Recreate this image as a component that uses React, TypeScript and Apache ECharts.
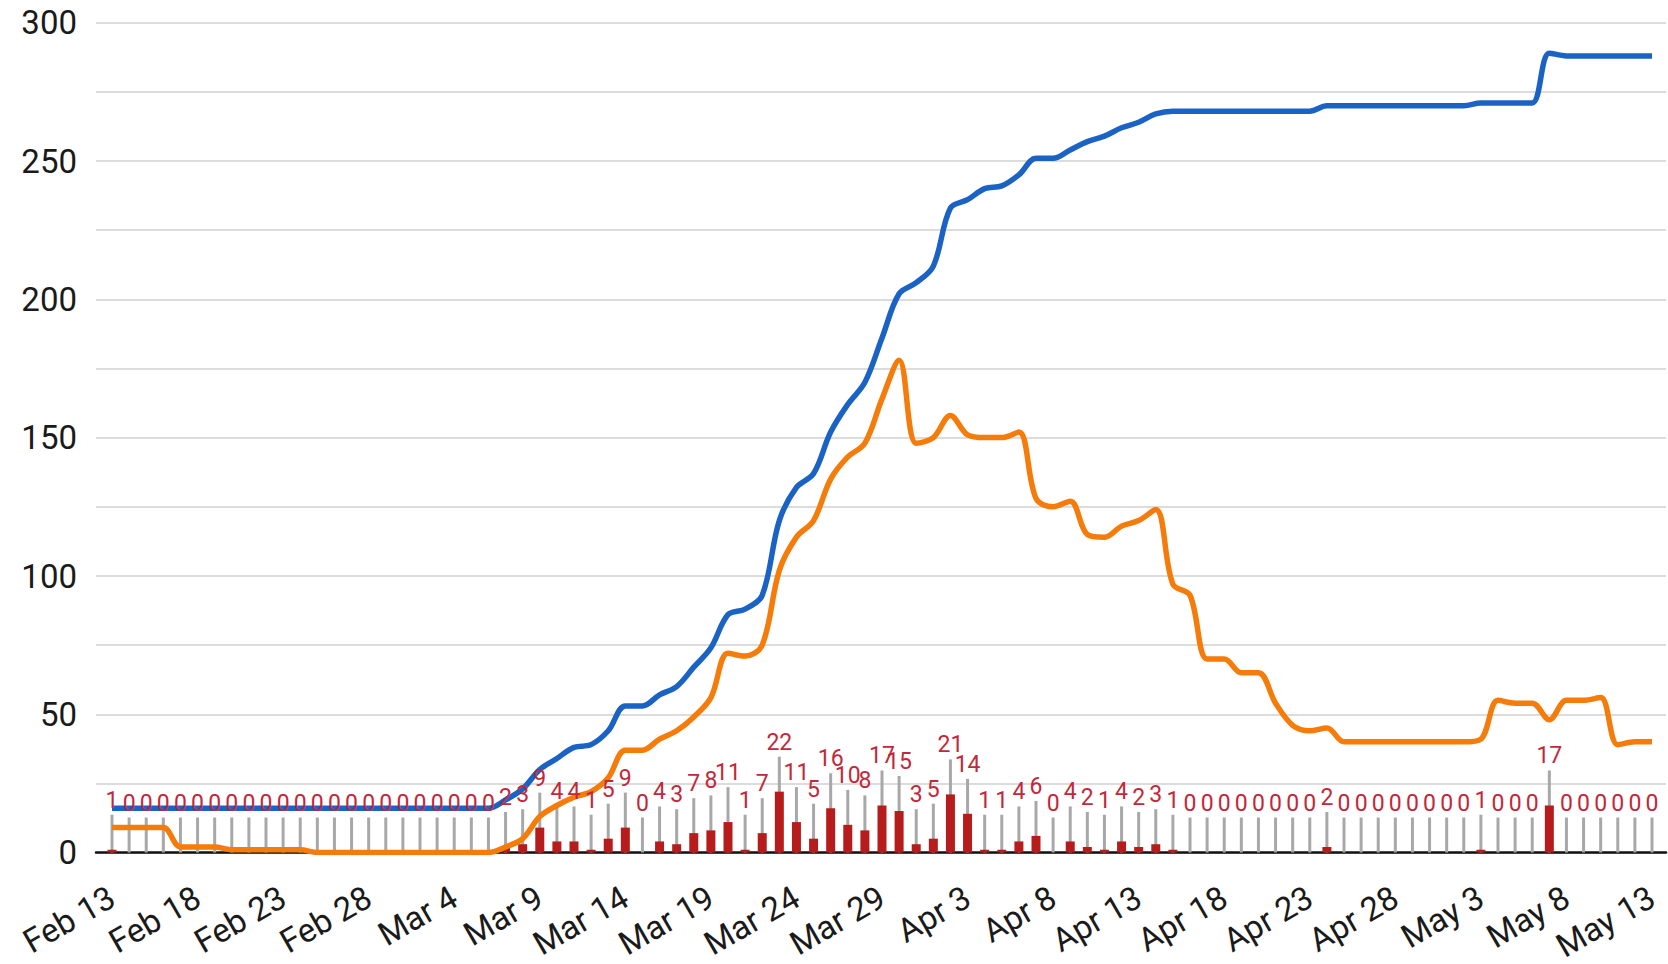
import React, { useEffect, useRef } from "react";
import * as echarts from "echarts";

const dates = [
  "Feb 13", "Feb 14", "Feb 15", "Feb 16", "Feb 17", "Feb 18", "Feb 19", "Feb 20", "Feb 21", "Feb 22",
  "Feb 23", "Feb 24", "Feb 25", "Feb 26", "Feb 27", "Feb 28", "Feb 29",
  "Mar 1", "Mar 2", "Mar 3", "Mar 4", "Mar 5", "Mar 6", "Mar 7", "Mar 8", "Mar 9", "Mar 10",
  "Mar 11", "Mar 12", "Mar 13", "Mar 14", "Mar 15", "Mar 16", "Mar 17", "Mar 18", "Mar 19", "Mar 20",
  "Mar 21", "Mar 22", "Mar 23", "Mar 24", "Mar 25", "Mar 26", "Mar 27", "Mar 28", "Mar 29", "Mar 30", "Mar 31",
  "Apr 1", "Apr 2", "Apr 3", "Apr 4", "Apr 5", "Apr 6", "Apr 7", "Apr 8", "Apr 9", "Apr 10",
  "Apr 11", "Apr 12", "Apr 13", "Apr 14", "Apr 15", "Apr 16", "Apr 17", "Apr 18", "Apr 19", "Apr 20",
  "Apr 21", "Apr 22", "Apr 23", "Apr 24", "Apr 25", "Apr 26", "Apr 27", "Apr 28", "Apr 29", "Apr 30",
  "May 1", "May 2", "May 3", "May 4", "May 5", "May 6", "May 7", "May 8", "May 9", "May 10",
  "May 11", "May 12", "May 13",
];

const dailyNew = [
  1, 0, 0, 0, 0, 0, 0, 0, 0, 0,
  0, 0, 0, 0, 0, 0, 0, 0, 0, 0,
  0, 0, 0, 2, 3, 9, 4, 4, 1, 5,
  9, 0, 4, 3, 7, 8, 11, 1, 7, 22,
  11, 5, 16, 10, 8, 17, 15, 3, 5, 21,
  14, 1, 1, 4, 6, 0, 4, 2, 1, 4,
  2, 3, 1, 0, 0, 0, 0, 0, 0, 0,
  0, 2, 0, 0, 0, 0, 0, 0, 0, 0,
  1, 0, 0, 0, 17, 0, 0, 0, 0, 0,
  0,
];

const totalCases = [
  16, 16, 16, 16, 16, 16, 16, 16, 16, 16,
  16, 16, 16, 16, 16, 16, 16, 16, 16, 16,
  16, 16, 16, 19, 23, 30, 34, 38, 39, 44,
  53, 53, 57, 60, 67, 74, 86, 88, 93, 120,
  132, 137, 152, 162, 170, 186, 202, 206, 212, 233,
  236, 240, 241, 245, 251, 251, 254, 257, 259, 262,
  264, 267, 268, 268, 268, 268, 268, 268, 268, 268,
  268, 270, 270, 270, 270, 270, 270, 270, 270, 270,
  271, 271, 271, 271, 289, 288, 288, 288, 288, 288,
  288,
];

const activeCases = [
  9, 9, 9, 9, 2, 2, 2, 1, 1, 1,
  1, 1, 0, 0, 0, 0, 0, 0, 0, 0,
  0, 0, 0, 2, 5, 13, 17, 20, 22, 27,
  37, 37, 41, 44, 49, 56, 72, 71, 75, 102,
  114, 120, 135, 143, 148, 164, 178, 148, 150, 158,
  151, 150, 150, 152, 128, 125, 127, 115, 114, 118,
  120, 124, 97, 93, 70, 70, 65, 65, 54, 46,
  44, 45, 40, 40, 40, 40, 40, 40, 40, 40,
  41, 55, 54, 54, 48, 55, 55, 56, 39, 40,
  40,
];

const yLabelValues = [0, 50, 100, 150, 200, 250, 300];

export default function App() {
  const ref = useRef<HTMLDivElement>(null);

  useEffect(() => {
    document.body.style.margin = "0";
    const chart = echarts.init(ref.current as HTMLDivElement, null, { renderer: "svg" });
    const top = 22.7;
    const bottom = 111.3;
    const option: any = {
      animation: false,
      backgroundColor: "#ffffff",
      grid: [
        { left: 96, right: 2, top, bottom },
        { left: 112, right: 16, top, bottom },
      ],
      xAxis: [
        {
          gridIndex: 0,
          type: "value",
          min: 0,
          max: 1,
          axisLine: { show: true, onZero: false, lineStyle: { color: "#111111", width: 2.5 } },
          axisTick: { show: false },
          axisLabel: { show: false },
          splitLine: { show: false },
        },
        {
          gridIndex: 1,
          type: "category",
          data: dates,
          boundaryGap: false,
          axisLine: { show: false },
          axisTick: { show: false },
          splitLine: { show: false },
          axisLabel: {
            interval: 4,
            rotate: 30,
            fontSize: 33,
            fontFamily: "Roboto",
            color: "#1a1a1a",
            margin: 42,
          },
        },
      ],
      yAxis: [
        {
          gridIndex: 0,
          type: "value",
          min: 0,
          max: 300,
          interval: 25,
          axisLine: { show: false },
          axisTick: { show: false },
          axisLabel: {
            formatter: (v: number) => (yLabelValues.indexOf(v) >= 0 ? String(v) : ""),
            fontSize: 33,
            fontFamily: "Roboto",
            color: "#1a1a1a",
            margin: 19,
          },
          splitLine: { show: true, lineStyle: { color: "#dcdcdc", width: 2 } },
        },
        { gridIndex: 1, type: "value", min: 0, max: 300, show: false },
      ],
      series: [
        {
          type: "custom",
          name: "stems",
          xAxisIndex: 1,
          yAxisIndex: 1,
          z: 1,
          data: dailyNew.map((v, i) => [i, v]),
          encode: { x: 0, y: 1 },
          renderItem: (params: any, api: any) => {
            const i = api.value(0);
            const v = api.value(1);
            const p = api.coord([i, v]);
            const b = api.coord([i, 0]);
            return {
              type: "line",
              shape: { x1: b[0], y1: b[1], x2: b[0], y2: p[1] - 35 },
              style: { stroke: "#a8a8a8", lineWidth: 3 },
            };
          },
        },
        {
          type: "bar",
          name: "new",
          xAxisIndex: 1,
          yAxisIndex: 1,
          z: 2,
          data: dailyNew,
          barWidth: 9,
          itemStyle: { color: "#b71c1c" },
        },
        {
          type: "line",
          name: "total",
          xAxisIndex: 1,
          yAxisIndex: 1,
          z: 3,
          data: totalCases,
          smooth: 0.35,
          showSymbol: false,
          lineStyle: { color: "#1a63c4", width: 5.5 },
          itemStyle: { color: "#1a63c4" },
        },
        {
          type: "line",
          name: "active",
          xAxisIndex: 1,
          yAxisIndex: 1,
          z: 4,
          data: activeCases,
          smooth: 0.35,
          showSymbol: false,
          lineStyle: { color: "#f57c0a", width: 5.5 },
          itemStyle: { color: "#f57c0a" },
        },
        {
          type: "custom",
          name: "labels",
          xAxisIndex: 1,
          yAxisIndex: 1,
          z: 5,
          data: dailyNew.map((v, i) => [i, v]),
          encode: { x: 0, y: 1 },
          renderItem: (params: any, api: any) => {
            const i = api.value(0);
            const v = api.value(1);
            const p = api.coord([i, v]);
            return {
              type: "text",
              x: p[0],
              y: p[1] - 38,
              style: {
                text: String(v),
                fill: "#c2283a",
                fontSize: 23,
                fontFamily: "Roboto",
                align: "center",
                verticalAlign: "bottom",
              },
            };
          },
        },
      ],
    };
    chart.setOption(option);
    return () => chart.dispose();
  }, []);

  return <div ref={ref} style={{ width: 1668, height: 964 }} />;
}
